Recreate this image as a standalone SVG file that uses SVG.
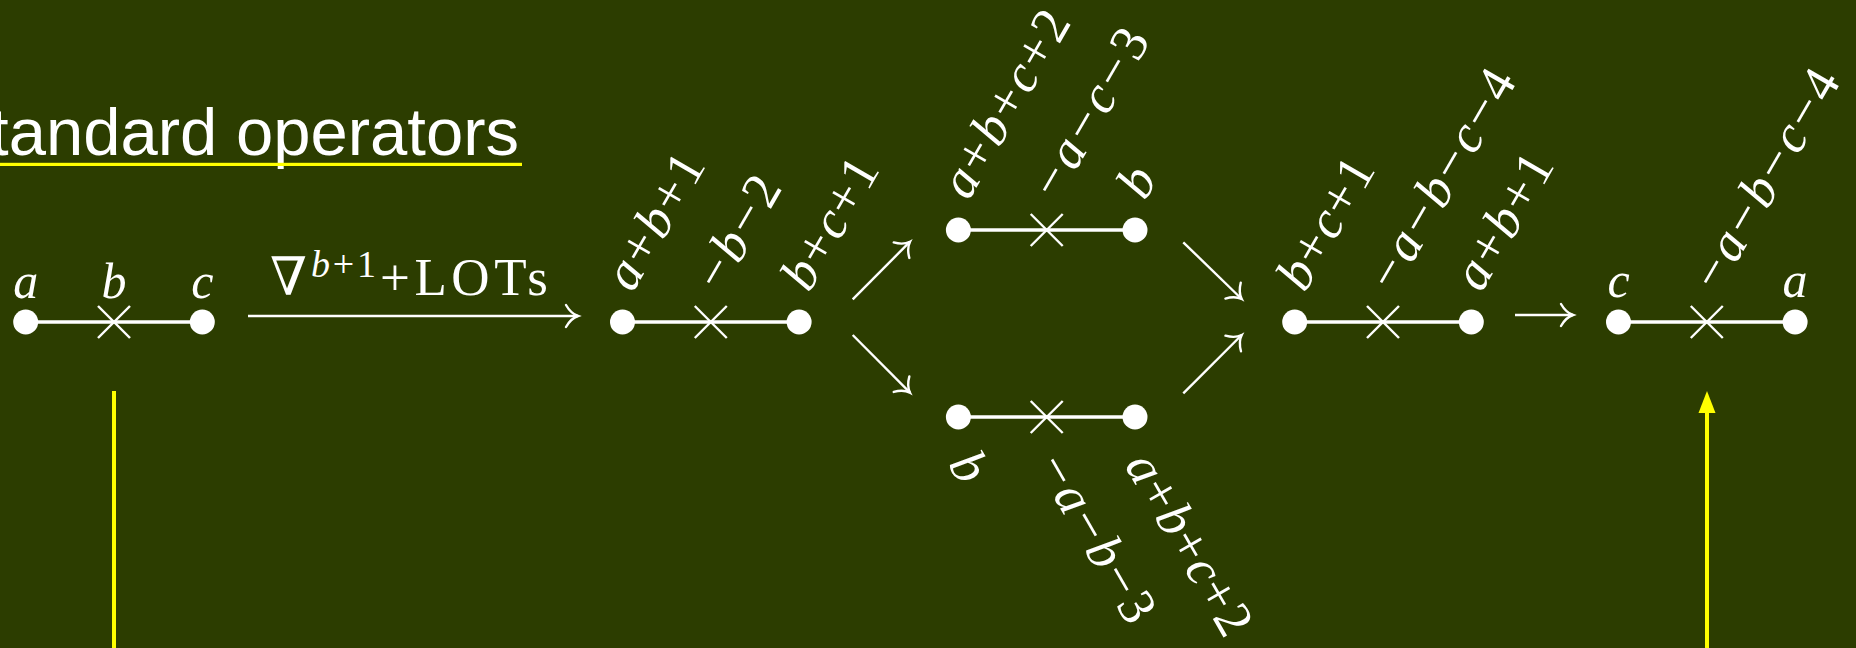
<svg xmlns="http://www.w3.org/2000/svg" width="1856" height="648" viewBox="0 0 1856 648">
<style>
.bg{fill:#2c3d00}
.n{fill:#fff}
.e{stroke:#fff;stroke-width:3.5}
.x{stroke:#fff;stroke-width:2.4}
.m{font-family:"Liberation Serif","DejaVu Serif",serif;font-size:53px;fill:#fff}
.s{font-size:50px}
.i{font-style:italic}
.t{font-family:"Liberation Sans",Arial,sans-serif;font-size:67px;fill:#fff}
.arr{stroke:#fff;stroke-width:2.4;fill:none;marker-end:url(#to)}
.y{stroke:#ffff00;stroke-width:4;fill:none}
</style>
<defs>
<marker id="to" markerUnits="userSpaceOnUse" viewBox="-14 -13 16 26" refX="0" refY="0" markerWidth="16" markerHeight="26" orient="auto" overflow="visible">
<path d="M-12,-11 C-8,-4 -3,-1 0,0 C-3,1 -8,4 -12,11" fill="none" stroke="#fff" stroke-width="2.4" stroke-linecap="round"/>
</marker>
<g id="cross"><line class="x" x1="-16" y1="-16" x2="16" y2="16"/><line class="x" x1="-16" y1="16" x2="16" y2="-16"/></g>
</defs>
<rect class="bg" x="0" y="0" width="1856" height="648"/>

<g id="title">
<text class="t" x="519" y="155" text-anchor="end">Standard operators</text>
<rect x="0" y="162.8" width="522" height="3.2" fill="#ffff00"/>
</g>

<g id="d1">
<line class="e" x1="25.7" y1="322" x2="202.3" y2="322"/>
<circle class="n" cx="25.7" cy="322" r="12.5"/>
<circle class="n" cx="202.3" cy="322" r="12.5"/>
<use href="#cross" x="114" y="322"/>
<text class="m s i" x="25.7" y="298" text-anchor="middle">a</text>
<text class="m s i" x="114" y="298" text-anchor="middle">b</text>
<text class="m s i" x="202.3" y="298" text-anchor="middle">c</text>
</g>

<g id="d2">
<line class="e" x1="622.5" y1="322" x2="799.1" y2="322"/>
<circle class="n" cx="622.5" cy="322" r="12.5"/>
<circle class="n" cx="799.1" cy="322" r="12.5"/>
<use href="#cross" x="710.8" y="322"/>
<text class="m" transform="translate(632.5,293.5) rotate(-60)" textLength="148" lengthAdjust="spacing"><tspan class="i">a</tspan>+<tspan class="i">b</tspan>+1</text>
<text class="m" transform="translate(722,293.5) rotate(-60)" textLength="122" lengthAdjust="spacing">−<tspan class="i">b</tspan>−2</text>
<text class="m" transform="translate(809.1,293.5) rotate(-60)" textLength="143" lengthAdjust="spacing"><tspan class="i">b</tspan>+<tspan class="i">c</tspan>+1</text>
</g>

<g id="d3u">
<line class="e" x1="958.4" y1="230" x2="1135" y2="230"/>
<circle class="n" cx="958.4" cy="230" r="12.5"/>
<circle class="n" cx="1135" cy="230" r="12.5"/>
<use href="#cross" x="1046.7" y="230"/>
<text class="m" transform="translate(968.4,201.5) rotate(-60)" textLength="207" lengthAdjust="spacing"><tspan class="i">a</tspan>+<tspan class="i">b</tspan>+<tspan class="i">c</tspan>+2</text>
<text class="m" transform="translate(1058,201.5) rotate(-60)" textLength="186" lengthAdjust="spacing">−<tspan class="i">a</tspan>−<tspan class="i">c</tspan>−3</text>
<text class="m i" transform="translate(1145,201.5) rotate(-60)">b</text>
</g>

<g id="d3l">
<line class="e" x1="958.4" y1="417" x2="1135" y2="417"/>
<circle class="n" cx="958.4" cy="417" r="12.5"/>
<circle class="n" cx="1135" cy="417" r="12.5"/>
<use href="#cross" x="1046.7" y="417"/>
<text class="m i" transform="translate(947.5,464) rotate(60)">b</text>
<text class="m" transform="translate(1035.5,466) rotate(60)" textLength="186" lengthAdjust="spacing">−<tspan class="i">a</tspan>−<tspan class="i">b</tspan>−3</text>
<text class="m" transform="translate(1124,465) rotate(60)" textLength="202" lengthAdjust="spacing"><tspan class="i">a</tspan>+<tspan class="i">b</tspan>+<tspan class="i">c</tspan>+2</text>
</g>

<g id="d4">
<line class="e" x1="1294.7" y1="322" x2="1471.3" y2="322"/>
<circle class="n" cx="1294.7" cy="322" r="12.5"/>
<circle class="n" cx="1471.3" cy="322" r="12.5"/>
<use href="#cross" x="1383" y="322"/>
<text class="m" transform="translate(1304.7,293.5) rotate(-60)" textLength="143" lengthAdjust="spacing"><tspan class="i">b</tspan>+<tspan class="i">c</tspan>+1</text>
<text class="m" transform="translate(1395,293.5) rotate(-60)" textLength="245" lengthAdjust="spacing">−<tspan class="i">a</tspan>−<tspan class="i">b</tspan>−<tspan class="i">c</tspan>−4</text>
<text class="m" transform="translate(1481.3,293.5) rotate(-60)" textLength="148" lengthAdjust="spacing"><tspan class="i">a</tspan>+<tspan class="i">b</tspan>+1</text>
</g>

<g id="d5">
<line class="e" x1="1618.5" y1="322" x2="1795.1" y2="322"/>
<circle class="n" cx="1618.5" cy="322" r="12.5"/>
<circle class="n" cx="1795.1" cy="322" r="12.5"/>
<use href="#cross" x="1706.8" y="322"/>
<text class="m s i" x="1618.5" y="297" text-anchor="middle">c</text>
<text class="m s i" x="1795.1" y="297" text-anchor="middle">a</text>
<text class="m" transform="translate(1719,293.5) rotate(-60)" textLength="245" lengthAdjust="spacing">−<tspan class="i">a</tspan>−<tspan class="i">b</tspan>−<tspan class="i">c</tspan>−4</text>
</g>

<g id="oplabel">
<text class="m" x="270" y="295">∇</text>
<text class="m" x="311" y="277" style="font-size:38px" textLength="65" lengthAdjust="spacing"><tspan class="i">b</tspan>+1</text>
<text class="m" x="380" y="295" textLength="168" lengthAdjust="spacing">+LOTs</text>
</g>

<g id="connectors">
<line class="arr" x1="248" y1="316" x2="578" y2="316"/>
<line class="arr" x1="852.7" y1="299.3" x2="910" y2="241.7"/>
<line class="arr" x1="852.7" y1="335" x2="910" y2="392.7"/>
<line class="arr" x1="1183.3" y1="242.3" x2="1241.7" y2="299"/>
<line class="arr" x1="1183.3" y1="393.3" x2="1241.7" y2="335"/>
<line class="arr" x1="1515" y1="315" x2="1573" y2="315"/>
<line class="y" x1="114" y1="391" x2="114" y2="648"/>
<line class="y" x1="1707" y1="648" x2="1707" y2="410"/>
<polygon points="1707,391 1698.5,413 1715.5,413" fill="#ffff00"/>
</g>
</svg>
